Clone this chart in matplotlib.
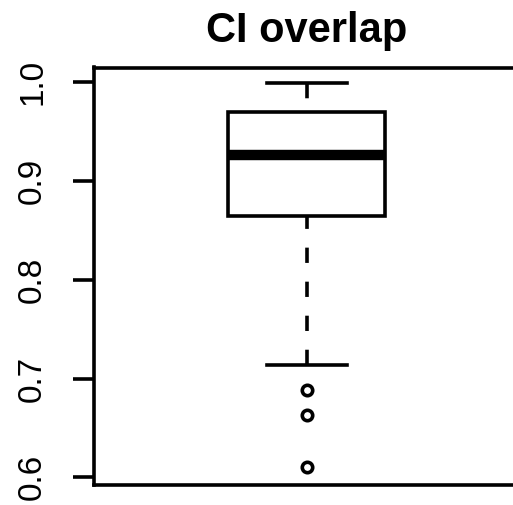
import matplotlib
matplotlib.use("Agg")
import matplotlib.pyplot as plt

plt.rcParams['font.family'] = ['Liberation Sans', 'DejaVu Sans']
plt.rcParams['lines.scale_dashes'] = False

# five-number summary and outliers of the CI overlap values
whisker_low = 0.714
q1 = 0.865
median = 0.9265
q3 = 0.970
whisker_high = 0.999
outliers = [0.688, 0.663, 0.610]

yticks = [0.6, 0.7, 0.8, 0.9, 1.0]
ytick_labels = ["0.6", "0.7", "0.8", "0.9", "1.0"]

stats = [{
    'whislo': whisker_low, 'q1': q1, 'med': median, 'q3': q3,
    'whishi': whisker_high, 'fliers': outliers,
}]

fig = plt.figure(figsize=(5.13, 5.05), dpi=100)
ax = fig.add_axes([94 / 513, 20 / 505, 425.4 / 513, 417.5 / 505])

lw = 2.6
parts = ax.bxp(
    stats, positions=[1.0], widths=0.368, capwidths=0.188,
    patch_artist=True, manage_ticks=False,
    boxprops=dict(facecolor='white', edgecolor='black', linewidth=lw),
    medianprops=dict(color='black', linewidth=7.5, solid_capstyle='butt'),
    whiskerprops=dict(color='black', linewidth=lw, linestyle=(0, (11, 13.5))),
    capprops=dict(color='black', linewidth=lw),
    flierprops=dict(marker='o', markersize=7.5, markerfacecolor='none',
                    markeredgecolor='black', markeredgewidth=lw),
)

# whiskers are dashed starting from the staple end
for w in parts['whiskers']:
    xs, ys = w.get_data()
    w.set_data(list(xs)[::-1], list(ys)[::-1])

ax.set_xlim(0.5, 1.5)
ax.set_ylim(0.5922, 1.015)
ax.set_xticks([])
ax.set_yticks(yticks)
ax.set_yticklabels(ytick_labels, rotation=90, va='center', ha='right')
ax.tick_params(axis='y', length=15, width=lw, pad=18, labelsize=24)

for side in ['left', 'top', 'bottom']:
    ax.spines[side].set_linewidth(lw)
ax.spines['right'].set_visible(False)

ax.set_title('CI overlap', fontsize=30, fontweight='bold', pad=18.5)

fig.savefig('out.png', dpi=100)
